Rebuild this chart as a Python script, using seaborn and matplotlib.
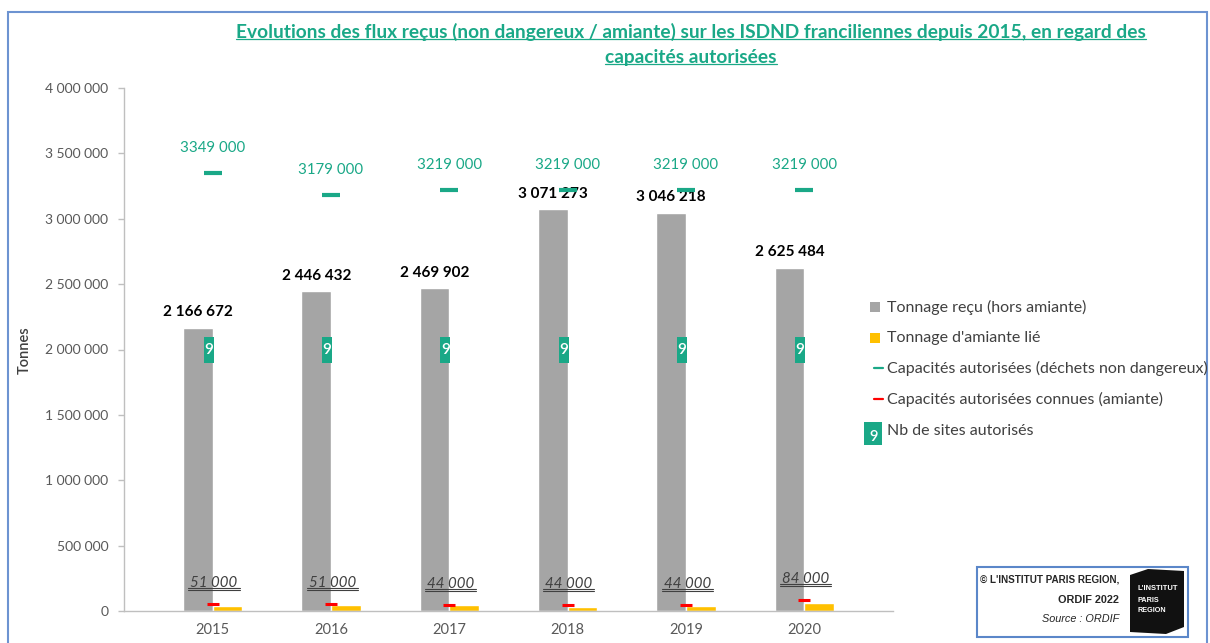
import numpy as np
import pandas as pd
import matplotlib
matplotlib.use("Agg")
import matplotlib.pyplot as plt
from matplotlib.patches import Rectangle, Polygon
from matplotlib.lines import Line2D
from matplotlib.path import Path
import seaborn as sns

# ---- data -------------------------------------------------------------
years = ["2015", "2016", "2017", "2018", "2019", "2020"]
tonnage_hors_amiante = [2166672, 2446432, 2469902, 3071273, 3046218, 2625484]
tonnage_amiante = [40000, 48000, 45000, 31000, 38000, 64000]
capacite_non_dangereux = [3349000, 3179000, 3219000, 3219000, 3219000, 3219000]
capacite_amiante = [51000, 51000, 44000, 44000, 44000, 84000]
nb_sites = [9, 9, 9, 9, 9, 9]
y_ticks = [0, 500000, 1000000, 1500000, 2000000, 2500000, 3000000, 3500000, 4000000]

serie_gris = "Tonnage reçu (hors amiante)"
serie_jaune = "Tonnage d'amiante lié"

# ---- style ------------------------------------------------------------
sns.set_theme(style="white")
plt.rcParams["font.family"] = ["Lato", "DejaVu Sans"]

W, H = 1210, 643
TEAL = "#1aa887"
GREY_BAR = "#a5a5a5"
YELLOW = "#ffc000"
AXIS = "#bfbfbf"
TXT = "#404040"


def fx(x):
    return x / W


def fy(y):
    return 1 - y / H


def thousands(v):
    return f"{int(v):,}".replace(",", " ")


fig = plt.figure(figsize=(W / 100, H / 100), dpi=100)
ax = fig.add_axes([fx(124), fy(611), fx(893) - fx(124), fy(88) - fy(611)])

df = pd.DataFrame({
    "annee": years * 2,
    "serie": [serie_gris] * len(years) + [serie_jaune] * len(years),
    "tonnes": tonnage_hors_amiante + tonnage_amiante,
})
sns.barplot(data=df, x="annee", y="tonnes", hue="serie",
            palette={serie_gris: GREY_BAR, serie_jaune: YELLOW},
            width=0.5, saturation=1, legend=False, ax=ax, errorbar=None)

pos = np.arange(len(years))

# received tonnage labels on the grey bars
ax.bar_label(ax.containers[0], labels=[thousands(v) for v in tonnage_hors_amiante],
             padding=6, fontsize=11, fontweight="bold", color="black")

# authorised capacity (non hazardous) markers and labels
sns.scatterplot(x=pos, y=capacite_non_dangereux, marker="_", s=13 ** 2,
                linewidth=3, color=TEAL, ax=ax, zorder=4)
for x, v in zip(pos, capacite_non_dangereux):
    s = f"{v // 1000} 000"
    ax.annotate(s, (x, v), xytext=(0, 18), textcoords="offset points",
                ha="center", va="center", fontsize=10.8, color=TEAL)

# known asbestos capacities
sns.scatterplot(x=pos, y=capacite_amiante, marker="_", s=8 ** 2,
                linewidth=2.2, color="#ff0000", ax=ax, zorder=4)
red_labels = []
for x, v in zip(pos, capacite_amiante):
    t = ax.annotate(thousands(v), (x + 0.01, v), xytext=(0, 15), textcoords="offset points",
                    ha="center", va="center", fontsize=10.8, style="italic", color=TXT)
    red_labels.append(t)

# number of authorised sites: tall teal tag with the count
tag = Path([(-5, -13), (5, -13), (5, 13), (-5, 13), (-5, -13)],
           [Path.MOVETO, Path.LINETO, Path.LINETO, Path.LINETO, Path.CLOSEPOLY])
sns.scatterplot(x=pos - 0.035, y=[2000000] * len(pos), marker=tag, s=19 ** 2,
                color=TEAL, linewidth=0, ax=ax, zorder=5)
for x, n in zip(pos, nb_sites):
    ax.text(x - 0.035, 2000000, str(n), ha="center", va="center", fontsize=11,
            color="white", fontweight="semibold", zorder=6)

# ---- axes ------------------------------------------------------------
ax.set_xlim(-0.75, 5.75)
ax.set_ylim(0, 4000000)
ax.set_yticks(y_ticks)
ax.set_yticklabels([thousands(v) for v in y_ticks])
ax.set_xticks(pos)
ax.set_xticklabels(years)
ax.set_xticks(np.arange(-0.75, 5.8, 0.5), minor=True)
ax.tick_params(axis="x", which="major", length=0, pad=9, labelsize=10.5, labelcolor="#595959")
ax.tick_params(axis="x", which="minor", length=4.3, width=1, color="#d9d9d9", direction="out")
ax.tick_params(axis="y", length=4.3, width=1, color=AXIS, direction="out", left=True,
               pad=7, labelsize=10, labelcolor="#595959")
ax.set_xlabel("")
ax.set_ylabel("")
for side in ("top", "right"):
    ax.spines[side].set_visible(False)
for side in ("left", "bottom"):
    ax.spines[side].set_color(AXIS)
    ax.spines[side].set_linewidth(1)
ax.grid(False)

fig.text(fx(25), fy(350), "Tonnes", rotation=90, ha="center", va="center",
         fontsize=10.5, color=TXT, fontweight="semibold")

# ---- title ------------------------------------------------------------
title1 = fig.text(fx(691), fy(32), "Evolutions des flux reçus (non dangereux / amiante) sur les ISDND "
                  "franciliennes depuis 2015, en regard des", ha="center", va="center",
                  fontsize=13.8, fontweight="bold", color=TEAL)
title2 = fig.text(fx(691), fy(58), "capacités autorisées", ha="center", va="center",
                  fontsize=13.8, fontweight="bold", color=TEAL)

# ---- legend ------------------------------------------------------------
leg_x = 887
leg_rows = [307, 338, 368, 399, 431]
leg_labels = [serie_gris, serie_jaune, "Capacités autorisées (déchets non dangereux)",
              "Capacités autorisées connues (amiante)", "Nb de sites autorisés"]
frame_clip = Rectangle((fx(8), 0), fx(1207) - fx(8), fy(12), transform=fig.transFigure,
                       fill=False, visible=False)
fig.add_artist(frame_clip)
for yy, lab in zip(leg_rows, leg_labels):
    t = fig.text(fx(leg_x), fy(yy), lab, ha="left", va="center", fontsize=11.5, color=TXT)
    t.set_clip_path(frame_clip)
fig.add_artist(Rectangle((fx(870), fy(312)), fx(10), 10 / H, transform=fig.transFigure,
                         fc=GREY_BAR, ec="none"))
fig.add_artist(Rectangle((fx(870), fy(343)), fx(10), 10 / H, transform=fig.transFigure,
                         fc=YELLOW, ec="none"))
fig.add_artist(Line2D([fx(874), fx(883)], [fy(368), fy(368)], transform=fig.transFigure,
                      color=TEAL, lw=1.6))
fig.add_artist(Line2D([fx(874), fx(883)], [fy(399), fy(399)], transform=fig.transFigure,
                      color="#ff0000", lw=1.6))
fig.add_artist(Rectangle((fx(864), fy(445)), fx(18), 23 / H, transform=fig.transFigure,
                         fc=TEAL, ec="none"))
fig.text(fx(874), fy(437), "9", ha="center", va="center", fontsize=10.5, color="white",
         fontweight="semibold")

# ---- outer frame ------------------------------------------------------------
fig.add_artist(Rectangle((fx(8), -0.02), fx(1207) - fx(8), fy(12) + 0.02,
                         transform=fig.transFigure, fill=False, ec="#6d93d1", lw=1.5))

# ---- credit box ------------------------------------------------------------
fig.add_artist(Rectangle((fx(977), fy(637)), fx(1188) - fx(977), (637 - 567) / H,
                         transform=fig.transFigure, fill=False, ec="#5b87c9", lw=1.5))
narrow = ["Liberation Sans Narrow", "Liberation Sans", "DejaVu Sans"]
fig.text(fx(1119), fy(580), "© L'INSTITUT PARIS REGION,", ha="right", va="center",
         fontsize=7.1, fontweight="bold", family=narrow, color="#262626")
fig.text(fx(1119), fy(600), "ORDIF 2022", ha="right", va="center",
         fontsize=7.8, fontweight="bold", family=narrow, color="#262626")
fig.text(fx(1119), fy(619), "Source : ORDIF", ha="right", va="center",
         fontsize=7.8, style="italic", family=narrow, color="#262626")
hexa = [(1130, 575), (1148, 569), (1184, 571), (1184, 627), (1166, 634), (1130, 632)]
fig.add_artist(Polygon([(fx(a), fy(b)) for a, b in hexa], closed=True,
                       transform=fig.transFigure, fc="#111111", ec="none"))
for yy, s, fs in zip([588, 601, 611], ["L'INSTITUT", "PARIS", "REGION"], [5.4, 5.2, 5.2]):
    fig.text(fx(1137), fy(yy), s, ha="left", va="center", fontsize=fs,
             fontweight="bold", family=narrow, color="white")

# ---- underlines ------------------------------------------------------------
fig.canvas.draw()
renderer = fig.canvas.get_renderer()
inv = fig.transFigure.inverted()


def underline(text, offsets, color, lw, extend=2):
    bb = text.get_window_extent(renderer)
    for off in offsets:
        (x0, y0), (x1, _) = inv.transform([(bb.x0 - extend, bb.y0 + off), (bb.x1 + extend, bb.y0 + off)])
        fig.add_artist(Line2D([x0, x1], [y0, y0], transform=fig.transFigure, color=color, lw=lw))


for t in red_labels:
    underline(t, [2.5, 0.5], TXT, 0.8)
underline(title1, [2.5], TEAL, 0.9, extend=0)
underline(title2, [2.5], TEAL, 0.9, extend=0)

fig.savefig("out.png", dpi=100)
